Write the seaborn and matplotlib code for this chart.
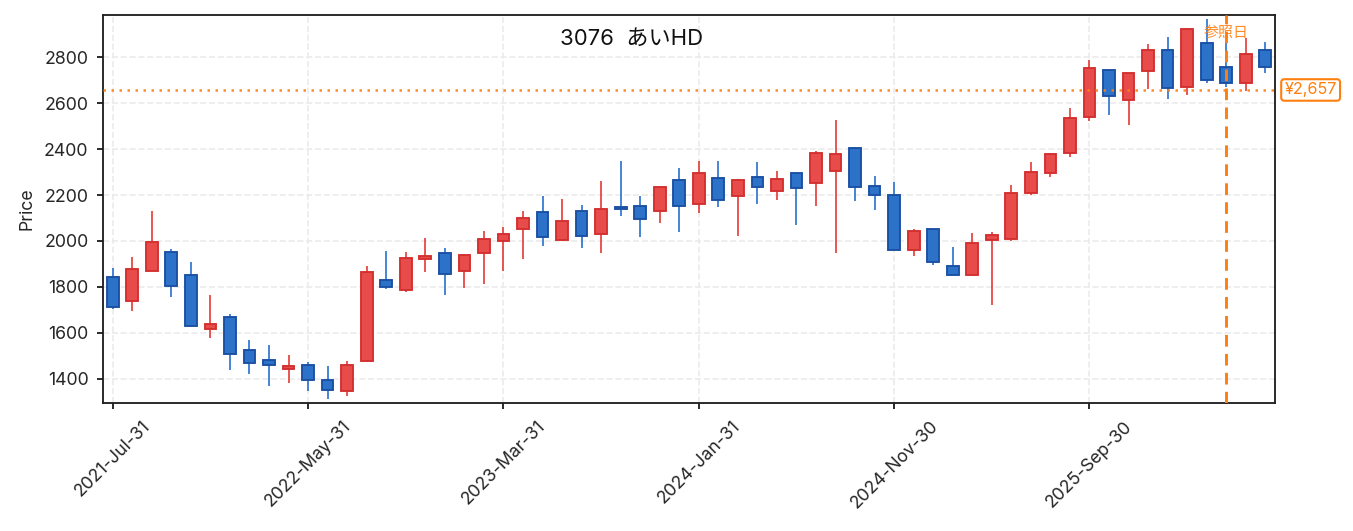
import matplotlib
matplotlib.use("Agg")
import matplotlib.pyplot as plt
import matplotlib.transforms as mtransforms
import seaborn as sns
import pandas as pd
import numpy as np

# monthly OHLC, 3076 あいHD
dates = pd.date_range("2021-07-31", periods=60, freq="ME")
opens = [1845, 1739, 1870, 1953, 1853, 1617, 1671, 1527, 1484, 1445,
         1462, 1396, 1348, 1477, 1832, 1787, 1922, 1949, 1870, 1946,
         1999, 2052, 2125, 2004, 2129, 2029, 2149, 2154, 2130, 2267,
         2162, 2275, 2196, 2280, 2217, 2294, 2252, 2304, 2406, 2241,
         2201, 1961, 2051, 1890, 1852, 2004, 2007, 2207, 2294, 2381,
         2538, 2742, 2613, 2738, 2833, 2668, 2860, 2755, 2687, 2833]
highs = [1881, 1929, 2130, 1964, 1907, 1764, 1681, 1570, 1548, 1504,
         1472, 1455, 1477, 1891, 1957, 1951, 2012, 1968, 1942, 2043,
         2060, 2130, 2196, 2183, 2157, 2261, 2348, 2196, 2237, 2316,
         2348, 2348, 2268, 2343, 2304, 2295, 2391, 2526, 2407, 2283,
         2257, 2052, 2052, 1974, 2033, 2038, 2243, 2343, 2381, 2578,
         2787, 2743, 2730, 2857, 2886, 2924, 2965, 2880, 2881, 2865]
lows = [1703, 1697, 1868, 1758, 1625, 1580, 1440, 1423, 1367, 1380,
        1348, 1314, 1327, 1475, 1793, 1777, 1867, 1767, 1797, 1814,
        1871, 1923, 1980, 2002, 1971, 1949, 2110, 2019, 2080, 2040,
        2123, 2149, 2022, 2161, 2178, 2070, 2152, 1949, 2175, 2135,
        1960, 1936, 1897, 1851, 1851, 1722, 1999, 2199, 2280, 2367,
        2523, 2549, 2506, 2661, 2619, 2636, 2686, 2668, 2654, 2732]
closes = [1712, 1880, 1997, 1804, 1630, 1640, 1509, 1470, 1461, 1456,
          1396, 1351, 1462, 1867, 1799, 1925, 1936, 1857, 1940, 2007,
          2032, 2101, 2017, 2088, 2020, 2141, 2138, 2096, 2236, 2152,
          2297, 2178, 2267, 2235, 2271, 2229, 2381, 2377, 2233, 2200,
          1961, 2045, 1909, 1852, 1990, 2027, 2207, 2301, 2377, 2533,
          2751, 2630, 2729, 2833, 2665, 2923, 2699, 2687, 2812, 2755]

ref_price = 2657
ref_index = 57
title = "3076  あいHD"

df = pd.DataFrame({"date": dates, "open": opens, "high": highs,
                   "low": lows, "close": closes})
df["x"] = np.arange(len(df))
df["up"] = df["close"] >= df["open"]

sns.set_theme(style="ticks")
plt.rcParams["font.family"] = ["Inter", "Noto Sans CJK JP", "DejaVu Sans"]

fig = plt.figure(figsize=(9.02, 3.54), dpi=150)
ax = fig.add_axes([0.0761, 0.241, 0.8663, 0.7307])

up_fill, up_edge, up_wick = "#e84c4a", "#d32f2f", "#e53935"
dn_fill, dn_edge, dn_wick = "#2b72c8", "#1a4fa3", "#2670cf"

for up, fill, edge, wick in [(True, up_fill, up_edge, up_wick),
                             (False, dn_fill, dn_edge, dn_wick)]:
    d = df[df["up"] == up]
    ax.vlines(d["x"], d["low"], d["high"], color=wick, linewidth=0.8, zorder=2)
    bottom = d[["open", "close"]].min(axis=1)
    height = (d["close"] - d["open"]).abs()
    ax.bar(d["x"], height, bottom=bottom, width=0.6, color=fill,
           edgecolor=edge, linewidth=0.9, zorder=3)

ax.axhline(ref_price, color="#ff7f0e", linestyle=(0, (1, 2.2)), linewidth=1.2,
           alpha=0.9, zorder=4)
ax.axvline(ref_index, color="#ff7f0e", linestyle=(0, (4, 2.5)), linewidth=1.4,
           zorder=4)

ax.set_xlim(-0.5, len(df) - 0.5)
ax.set_ylim(1295, 2983)

tick_idx = df["x"][::10]
ax.set_xticks(tick_idx)
ax.set_xticklabels(df["date"][::10].dt.strftime("%Y-%b-%d"), rotation=45,
                   fontsize=8.5)
ax.tick_params(axis="y", labelsize=8.5)
ax.tick_params(axis="both", length=3, width=0.9, color="#222222", pad=4)
ax.set_ylabel("Price", fontsize=8.5)

ax.grid(True, linestyle="--", color="#ebebeb", linewidth=0.8)
ax.set_axisbelow(True)
for s in ax.spines.values():
    s.set_color("#222222")
    s.set_linewidth(0.9)

ax.text(0.4514, 0.938, title, transform=ax.transAxes, ha="center",
        va="center", fontsize=10.6, color="#111111")
ax.text(ref_index, 0.953, "参照日", transform=mtransforms.blended_transform_factory(
    ax.transData, ax.transAxes), ha="center", va="center", fontsize=7.2,
    color="#ff7f0e", alpha=0.9, zorder=5)

ax.annotate(f"¥{ref_price:,}", xy=(1.0, ref_price),
            xycoords=mtransforms.blended_transform_factory(ax.transAxes, ax.transData),
            xytext=(4.5, 0), textcoords="offset points", ha="left", va="center",
            fontsize=7.8, color="#ff7f0e", annotation_clip=False,
            bbox=dict(boxstyle="round,pad=0.2", fc="white", ec="#ff7f0e", lw=1.0))

fig.savefig("out.png", dpi=150)
